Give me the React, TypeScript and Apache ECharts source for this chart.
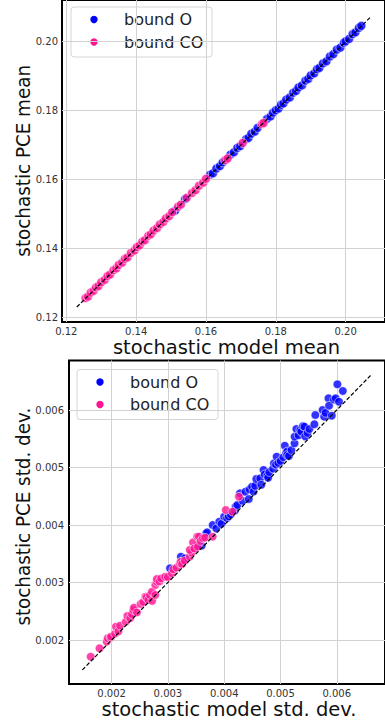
import React, { useEffect, useRef } from "react";
import * as echarts from "echarts";

// ---------- data ----------
const seriesNames = ["bound O", "bound CO"];

// top panel: stochastic model mean (x) vs stochastic PCE mean (y)
const meanBoundO: [number, number][] = [
  [0.1512, 0.151], [0.154, 0.1543], [0.1612, 0.1614], [0.162, 0.1618], [0.163, 0.1632],
  [0.164, 0.1639], [0.1648, 0.165], [0.167, 0.1672], [0.168, 0.1679], [0.169, 0.1692],
  [0.1698, 0.1697], [0.1715, 0.1717], [0.1722, 0.1721], [0.173, 0.1733], [0.174, 0.1739],
  [0.1748, 0.175], [0.1775, 0.1776], [0.1785, 0.1783], [0.1792, 0.1794], [0.18, 0.1801],
  [0.1808, 0.1806], [0.1815, 0.1817], [0.1822, 0.1821], [0.183, 0.1832], [0.184, 0.1838],
  [0.185, 0.1852], [0.1858, 0.1857], [0.1865, 0.1867], [0.1875, 0.1873], [0.1885, 0.1887],
  [0.1893, 0.1892], [0.19, 0.1902], [0.191, 0.1908], [0.1918, 0.192], [0.1925, 0.1924],
  [0.1935, 0.1937], [0.1945, 0.1943], [0.1955, 0.1957], [0.1965, 0.1964], [0.1975, 0.1977],
  [0.1985, 0.1983], [0.1995, 0.1997], [0.2, 0.2001], [0.201, 0.2008], [0.202, 0.2022],
  [0.2028, 0.2027], [0.2038, 0.204], [0.2045, 0.2046],
];
const meanBoundCO: [number, number][] = [
  [0.1255, 0.1256], [0.1262, 0.126], [0.127, 0.1272], [0.1278, 0.1277], [0.1285, 0.1287],
  [0.1292, 0.1291], [0.13, 0.1302], [0.131, 0.1309], [0.1318, 0.132], [0.1325, 0.1324],
  [0.1335, 0.1337], [0.1343, 0.1342], [0.135, 0.1352], [0.136, 0.1359], [0.1368, 0.137],
  [0.1375, 0.1374], [0.1385, 0.1387], [0.1395, 0.1394], [0.1402, 0.1404], [0.141, 0.1409],
  [0.1418, 0.142], [0.1425, 0.1424], [0.1435, 0.1437], [0.1442, 0.1441], [0.145, 0.1452],
  [0.146, 0.1459], [0.1468, 0.147], [0.1478, 0.1477], [0.1485, 0.1487], [0.1495, 0.1494],
  [0.1503, 0.1505], [0.152, 0.1521], [0.1528, 0.1527], [0.1545, 0.1547], [0.156, 0.1561],
  [0.157, 0.1569], [0.158, 0.1582], [0.1592, 0.1591], [0.16, 0.1602], [0.1655, 0.1656],
  [0.1662, 0.1661], [0.1705, 0.1706], [0.176, 0.1761], [0.1765, 0.1764],
];

// bottom panel: stochastic model std. dev. (x) vs stochastic PCE std. dev. (y)
const stdBoundO: [number, number][] = [
  [0.003038, 0.003248], [0.003231, 0.003449], [0.0033, 0.00342], [0.00348, 0.0036],
  [0.003533, 0.003653], [0.0036, 0.00364], [0.003679, 0.003854], [0.003696, 0.003873],
  [0.003795, 0.003999], [0.00386, 0.00394], [0.003913, 0.004057], [0.00395, 0.00402],
  [0.004, 0.004144], [0.00405, 0.00412], [0.00408, 0.00415], [0.004116, 0.004185],
  [0.00419, 0.00425], [0.004203, 0.004318], [0.004233, 0.004348], [0.00428, 0.004551],
  [0.00433, 0.00442], [0.004378, 0.004579], [0.004437, 0.004452], [0.00445, 0.00462],
  [0.004495, 0.004667], [0.00452, 0.00458], [0.00455, 0.00468], [0.00457, 0.0048],
  [0.00464, 0.004812], [0.00466, 0.0047], [0.004699, 0.004957], [0.00472, 0.00488],
  [0.004769, 0.004858], [0.00478, 0.00482], [0.0048, 0.00492], [0.00487, 0.00498],
  [0.004884, 0.005073], [0.00492, 0.00505], [0.004932, 0.005188], [0.00496, 0.00508],
  [0.005001, 0.005113], [0.00505, 0.00518], [0.005077, 0.005379], [0.0051, 0.00526],
  [0.00512, 0.00528], [0.005119, 0.005217], [0.00515, 0.0052], [0.005194, 0.005304],
  [0.00525, 0.00542], [0.005252, 0.005536], [0.005282, 0.00567], [0.00532, 0.00556],
  [0.00535, 0.00565], [0.005369, 0.005623], [0.0054, 0.00572], [0.005427, 0.00571],
  [0.00544, 0.00554], [0.00548, 0.0056], [0.005514, 0.00567], [0.005602, 0.005752],
  [0.005619, 0.005913], [0.005748, 0.006], [0.005776, 0.005884], [0.0058, 0.00595],
  [0.005853, 0.006204], [0.005864, 0.006075], [0.005911, 0.005901], [0.00595, 0.00618],
  [0.005981, 0.006204], [0.006011, 0.006447], [0.006039, 0.006144], [0.006108, 0.006331],
];
const stdBoundCO: [number, number][] = [
  [0.001628, 0.00171], [0.001785, 0.001856], [0.001913, 0.001971], [0.00193, 0.00203],
  [0.00198, 0.00204], [0.001989, 0.002058], [0.00206, 0.00211], [0.002077, 0.002232],
  [0.00212, 0.00215], [0.00215, 0.00225], [0.002252, 0.002318], [0.00228, 0.002418],
  [0.00233, 0.00238], [0.00236, 0.00245], [0.002385, 0.002522], [0.002397, 0.002562],
  [0.00245, 0.00248], [0.002514, 0.002626], [0.00256, 0.00266], [0.002601, 0.002754],
  [0.00262, 0.00274], [0.00265, 0.0027], [0.00268, 0.00278], [0.00272, 0.00268],
  [0.002717, 0.00284], [0.002776, 0.002783], [0.002776, 0.002957], [0.002804, 0.003014],
  [0.002804, 0.003061], [0.00285, 0.00302], [0.00288, 0.00307], [0.002951, 0.003101],
  [0.002997, 0.003094], [0.00307, 0.00316], [0.003096, 0.00323], [0.003154, 0.003258],
  [0.003213, 0.003334], [0.003231, 0.003362], [0.00325, 0.00332], [0.0033, 0.00338],
  [0.003388, 0.003449], [0.00342, 0.00352], [0.003388, 0.003566], [0.003446, 0.003699],
  [0.00347, 0.00359], [0.003521, 0.003797], [0.003533, 0.003623], [0.003551, 0.003797],
  [0.00358, 0.00372], [0.003621, 0.003769], [0.00366, 0.00378], [0.003795, 0.003797],
  [0.004028, 0.004261], [0.004145, 0.004232], [0.004262, 0.004492],
];

// dashed identity lines (start, end)
const meanIdentity = [0.123, 0.207];
const stdIdentity = [0.00148, 0.0066];

// tick values
const meanTicks = [0.12, 0.14, 0.16, 0.18, 0.2];
const stdTicks = [0.002, 0.003, 0.004, 0.005, 0.006];

// axis ranges
const meanXRange = [0.11876, 0.21128];
const meanYRange = [0.11866, 0.21209];
const stdXRange = [0.0012427, 0.0068571];
const stdYRange = [0.001235, 0.006861];

// ---------- styles ----------
const BLUE = "#0000ff";
const PINK = "#ff1493";
const FONT = "DejaVu Sans";

export default function App() {
  const ref = useRef<HTMLDivElement>(null);

  useEffect(() => {
    if (!ref.current) return;
    const chart = echarts.init(ref.current, undefined, { renderer: "svg" });

    const gridLine = { show: true, lineStyle: { color: "#d2d2d2", width: 1 } };
    const mkAxis = (
      gridIndex: number,
      range: number[],
      ticks: number[],
      digits: number,
      margin: number
    ) => ({
      type: "value",
      gridIndex,
      min: range[0],
      max: range[1],
      axisLine: { show: false },
      axisTick: { show: false, customValues: ticks },
      axisLabel: {
        customValues: ticks,
        formatter: (v: number) => v.toFixed(digits),
        fontSize: 10,
        lineHeight: 10,
        color: "#333",
        fontFamily: FONT,
        margin,
      },
      splitLine: gridLine,
    });

    const scatterStyle = (color: string) => ({
      color,
      borderColor: "#ffffff",
      borderWidth: 0.7,
    });

    const lineSeries = (idx: number, pts: number[]) => ({
      type: "line",
      xAxisIndex: idx,
      yAxisIndex: idx,
      data: [
        [pts[0], pts[0]],
        [pts[1], pts[1]],
      ],
      symbol: "none",
      silent: true,
      z: 5,
      lineStyle: { color: "#000", width: 1.2, type: [4, 2] },
    });

    const legendText = (text: string, y: number) => ({
      type: "text",
      x: 53,
      y,
      style: {
        text,
        fontSize: 16,
        fontFamily: FONT,
        fill: "#222",
        textVerticalAlign: "middle",
      },
    });

    const legendGroup = (x: number, y: number) => ({
      type: "group",
      x,
      y,
      z: 100,
      children: [
        {
          type: "rect",
          shape: { x: 0, y: 0, width: 141, height: 50, r: 3 },
          style: { fill: "rgba(255,255,255,0.85)", stroke: "#d6d6d6", lineWidth: 1 },
        },
        { type: "circle", shape: { cx: 23, cy: 12.5, r: 3.7 }, style: { fill: BLUE } },
        { type: "circle", shape: { cx: 23, cy: 35, r: 3.7 }, style: { fill: PINK } },
        legendText(seriesNames[0], 12.5),
        legendText(seriesNames[1], 35),
      ],
    });

    const title = (text: string, x: number, y: number, rotate: boolean) => ({
      type: "text",
      x,
      y,
      rotation: rotate ? Math.PI / 2 : 0,
      scaleX: rotate ? 0.94 : 1,
      z: 100,
      style: {
        text,
        fontSize: 19.5,
        lineHeight: 15,
        fontFamily: FONT,
        fill: "#111",
        textAlign: "center",
        textVerticalAlign: "middle",
      },
    });

    const scatter = (idx: number, name: string, data: [number, number][], color: string, size: number) => ({
      name,
      type: "scatter",
      xAxisIndex: idx,
      yAxisIndex: idx,
      data,
      symbolSize: size,
      itemStyle: scatterStyle(color),
      z: 2,
    });

    chart.setOption({
      animation: false,
      backgroundColor: "#ffffff",
      grid: [
        {
          left: 62,
          top: -5,
          right: -5,
          bottom: 400,
          show: true,
          borderColor: "#000",
          borderWidth: 2,
          backgroundColor: "transparent",
        },
        {
          left: 69,
          top: 360.5,
          right: -5,
          bottom: 38,
          show: true,
          borderColor: "#000",
          borderWidth: 2,
          backgroundColor: "transparent",
        },
      ],
      xAxis: [mkAxis(0, meanXRange, meanTicks, 2, 4), mkAxis(1, stdXRange, stdTicks, 3, 4)],
      yAxis: [mkAxis(0, meanYRange, meanTicks, 2, 4), mkAxis(1, stdYRange, stdTicks, 3, 5)],
      series: [
        scatter(0, seriesNames[0], meanBoundO, BLUE, 9),
        scatter(0, seriesNames[1], meanBoundCO, PINK, 9),
        lineSeries(0, meanIdentity),
        scatter(1, seriesNames[0], stdBoundO, BLUE, 8.5),
        scatter(1, seriesNames[1], stdBoundCO, PINK, 8.5),
        lineSeries(1, stdIdentity),
      ],
      graphic: [
        legendGroup(71, 7),
        legendGroup(77, 369.5),
        title("stochastic model mean", 226.5, 347, false),
        title("stochastic PCE mean", 23, 160.8, true),
        title("stochastic model std. dev.", 229, 709, false),
        title("stochastic PCE std. dev.", 23, 516.7, true),
      ],
    });

    return () => chart.dispose();
  }, []);

  return (
    <div
      ref={ref}
      style={{ position: "fixed", left: 0, top: 0, width: 385, height: 722, background: "#fff" }}
    />
  );
}
